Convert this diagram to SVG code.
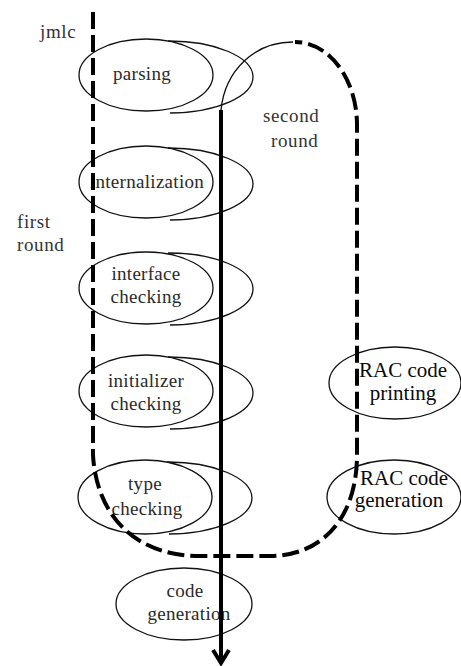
<svg xmlns="http://www.w3.org/2000/svg" width="461" height="666" viewBox="0 0 461 666">
  <style>
    .shape { fill: none; stroke: #111; stroke-width: 1.3; }
    text { font-family: "Liberation Serif", "Times New Roman", Times, "DejaVu Serif", serif; }
    .phase { font-size: 19px; fill: #2a2a2a; text-anchor: middle; letter-spacing: 0.3px; }
    .rac { font-size: 21px; fill: #0a0a0a; text-anchor: middle; }
    .note { font-size: 19px; fill: #333; letter-spacing: 0.6px; }
    .loop { fill: none; stroke: #000; stroke-width: 4; stroke-dasharray: 17 6; }
    .flow { fill: none; stroke: #000; stroke-width: 4; }
    .thin { fill: none; stroke: #111; stroke-width: 1.3; }
  </style>
  <rect width="461" height="666" fill="#fff"/>

  <!-- free labels -->
  <g id="labels">
    <text class="note" x="40" y="38">jmlc</text>
    <text class="note" x="17" y="228">first</text>
    <text class="note" x="17" y="251">round</text>
    <text class="note" x="263" y="122">second</text>
    <text class="note" x="271" y="147">round</text>
  </g>

  <!-- first-round phases: ellipse with a second offset rim on the right -->
  <g id="parsing">
    <ellipse class="shape" cx="146" cy="75" rx="67" ry="36"/>
    <path class="shape" d="M168,41 A84,36 0 0 1 170,113"/>
    <text class="phase" x="142" y="80">parsing</text>
  </g>
  <g id="internalization">
    <ellipse class="shape" cx="146" cy="182" rx="67" ry="36"/>
    <path class="shape" d="M168,148 A84,36 0 0 1 170,220"/>
    <text class="phase" x="147" y="188">internalization</text>
  </g>
  <g id="interface-checking">
    <ellipse class="shape" cx="146" cy="288" rx="67" ry="36"/>
    <path class="shape" d="M168,253 A84,36 0 0 1 170,325"/>
    <text class="phase" x="146" y="280">interface</text>
    <text class="phase" x="146" y="303">checking</text>
  </g>
  <g id="initializer-checking">
    <ellipse class="shape" cx="146" cy="391" rx="67" ry="36"/>
    <path class="shape" d="M168,357 A84,36 0 0 1 170,429"/>
    <text class="phase" x="146" y="387">initializer</text>
    <text class="phase" x="146" y="410">checking</text>
  </g>
  <g id="type-checking">
    <ellipse class="shape" cx="145" cy="497" rx="67" ry="37"/>
    <path class="shape" d="M167,462 A84,36 0 0 1 169,534"/>
    <text class="phase" x="145" y="490">type</text>
    <text class="phase" x="147" y="515">checking</text>
  </g>
  <g id="code-generation">
    <ellipse class="shape" cx="184" cy="604" rx="68" ry="36"/>
    <text class="phase" x="185" y="597">code</text>
    <text class="phase" x="189" y="620">generation</text>
  </g>

  <!-- second-round phases -->
  <g id="rac-code-printing">
    <ellipse class="shape" cx="395" cy="383" rx="66" ry="36"/>
    <text class="rac" x="403" y="377">RAC code</text>
    <text class="rac" x="403" y="400">printing</text>
  </g>
  <g id="rac-code-generation">
    <ellipse class="shape" cx="394" cy="497" rx="67" ry="37"/>
    <text class="rac" x="404" y="485">RAC code</text>
    <text class="rac" x="399" y="507">generation</text>
  </g>

  <!-- connectors: round loop, hand-off curve and the main flow arrow -->
  <g id="connectors">
    <path class="loop" d="M93,12 L93,455 C96,510 130,556 200,556 L270,556 C320,556 357,520 357,455 L357,125 C357,80 330,42 295,42"/>
    <path class="thin" d="M293,42 C255,42 225,70 221,110"/>
    <line class="flow" x1="221" y1="110" x2="221" y2="662"/>
    <polyline class="flow" stroke-width="3.5" points="213,650 221,663 229,650"/>
  </g>
</svg>
